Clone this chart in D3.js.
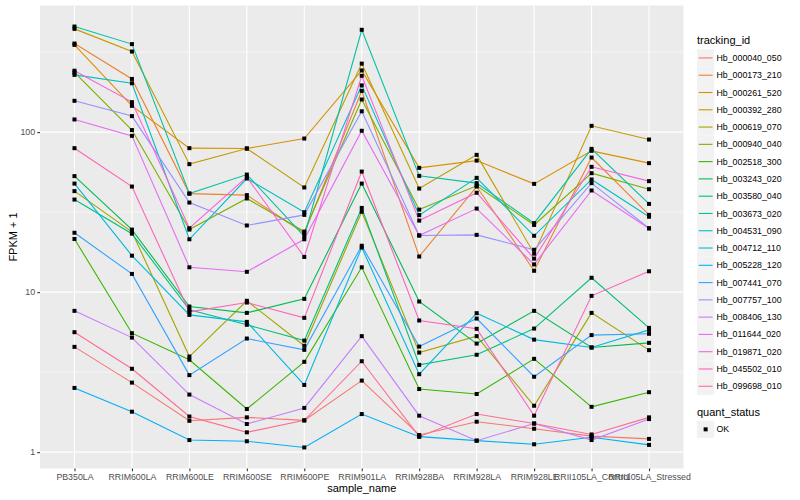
<!DOCTYPE html>
<html>
<head>
<meta charset="utf-8">
<script src="https://cdn.jsdelivr.net/npm/d3@7/dist/d3.min.js"></script>
<style>
  body { margin: 0; background: #fff; }
  text { font-family: "Liberation Sans", Arial, sans-serif; }
</style>
</head>
<body>
<svg width="800" height="500"></svg>
<script>
var samples = ["PB350LA", "RRIM600LA", "RRIM600LE", "RRIM600SE", "RRIM600PE", "RRIM901LA",
               "RRIM928BA", "RRIM928LA", "RRIM928LE", "RRII105LA_Control", "RRII105LA_Stressed"];

var trackingIds = ["Hb_000040_050", "Hb_000173_210", "Hb_000261_520", "Hb_000392_280", "Hb_000619_070",
                   "Hb_000940_040", "Hb_002518_300", "Hb_003243_020", "Hb_003580_040", "Hb_003673_020",
                   "Hb_004531_090", "Hb_004712_110", "Hb_005228_120", "Hb_007441_070", "Hb_007757_100",
                   "Hb_008406_130", "Hb_011644_020", "Hb_019871_020", "Hb_045502_010", "Hb_099698_010"];

var quantStatus = ["OK"];

// FPKM + 1, one value per sample
var hb_000040_050 = [4.55, 2.72, 1.57, 1.65, 1.58, 2.80, 1.28, 1.55, 1.40, 1.26, 1.21];
var hb_000173_210 = [358, 215, 41.3, 40.4, 23.4, 181, 16.7, 45.7, 13.6, 69.4, 30.4];
var hb_000261_520 = [351, 146, 79.4, 79.0, 91.2, 243, 59.8, 66.4, 47.5, 76.4, 64.0];
var hb_000392_280 = [442, 319, 63.1, 79.0, 45.1, 268, 44.4, 72.1, 17.4, 109.5, 89.9];
var hb_000619_070 = [42.8, 23.8, 3.96, 8.83, 4.62, 31.8, 4.19, 5.31, 1.95, 7.42, 4.34];
var hb_000940_040 = [236, 103, 24.6, 38.5, 23.9, 160, 32.8, 46.2, 26.3, 55.4, 44.0];
var hb_002518_300 = [21.5, 5.54, 3.78, 1.86, 3.67, 14.3, 2.48, 2.31, 3.83, 1.92, 2.37];
var hb_003243_020 = [53.1, 24.6, 8.13, 7.42, 9.08, 47.7, 8.74, 4.77, 7.64, 4.51, 4.82];
var hb_003580_040 = [37.9, 23.2, 7.75, 6.25, 4.98, 33.6, 3.51, 4.06, 5.92, 12.3, 5.98];
var hb_003673_020 = [457, 355, 41.3, 54.3, 22.3, 436, 53.3, 48.0, 27.0, 78.6, 35.6];
var hb_004531_090 = [228, 202, 21.4, 51.3, 31.6, 196, 30.3, 51.8, 22.5, 50.6, 29.6];
var hb_004712_110 = [47.7, 16.9, 7.21, 6.52, 2.63, 19.0, 3.07, 7.39, 5.05, 4.51, 5.81];
var hb_005228_120 = [2.52, 1.79, 1.19, 1.17, 1.07, 1.73, 1.25, 1.18, 1.12, 1.24, 1.11];
var hb_007441_070 = [23.5, 13.0, 3.03, 5.13, 4.36, 19.5, 4.57, 6.84, 2.96, 5.39, 5.49];
var hb_007757_100 = [157, 126, 36.3, 26.1, 30.4, 135, 22.6, 22.8, 18.4, 48.0, 25.1];
var hb_008406_130 = [7.64, 5.20, 2.29, 1.50, 1.89, 5.31, 1.69, 1.18, 1.51, 1.19, 1.61];
var hb_011644_020 = [120, 94.8, 14.3, 13.4, 21.4, 102, 22.6, 33.3, 14.9, 43.2, 25.0];
var hb_019871_020 = [242, 154, 25.1, 52.3, 16.6, 225, 28.0, 41.8, 16.2, 60.7, 49.4];
var hb_045502_010 = [79.4, 45.7, 7.53, 8.61, 6.91, 56.7, 6.65, 5.90, 1.69, 9.48, 13.5];
var hb_099698_010 = [5.62, 3.32, 1.67, 1.33, 1.58, 3.70, 1.25, 1.73, 1.51, 1.29, 1.65];

var seriesValues = [hb_000040_050, hb_000173_210, hb_000261_520, hb_000392_280, hb_000619_070,
                    hb_000940_040, hb_002518_300, hb_003243_020, hb_003580_040, hb_003673_020,
                    hb_004531_090, hb_004712_110, hb_005228_120, hb_007441_070, hb_007757_100,
                    hb_008406_130, hb_011644_020, hb_019871_020, hb_045502_010, hb_099698_010];

// ggplot default hue palette for 20 levels
var hues = ["#F8766D", "#EA8331", "#D89000", "#C09B00", "#A3A500", "#7CAE00", "#39B600", "#00BB4E",
            "#00BF7D", "#00C1A3", "#00BFC4", "#00BAE0", "#00B0F6", "#35A2FF", "#9590FF", "#C77CFF",
            "#E76BF3", "#FA62DB", "#FF62BC", "#FF6C91"];

var series = trackingIds.map(function(id, i){
  return {id: id, colour: hues[i], values: seriesValues[i].map(function(v, j){
    return {sample: samples[j], value: v};
  })};
});

var panelLeft = 40, panelRight = 683.5, panelTop = 5.5, panelBottom = 468.5;

var svg = d3.select('svg');

var xScale = d3.scalePoint()
  .domain(samples)
  .range([panelLeft, panelRight])
  .padding(0.6);

// log scale with 5% expansion like ggplot
var allValues = d3.merge(seriesValues);
var logMin = Math.log10(d3.min(allValues)), logMax = Math.log10(d3.max(allValues));
var pad = (logMax - logMin) * 0.05;
var yScale = d3.scaleLog()
  .domain([Math.pow(10, logMin - pad), Math.pow(10, logMax + pad)])
  .range([panelBottom, panelTop]);

// panel background
svg.append('rect')
  .attr('x', panelLeft).attr('y', panelTop)
  .attr('width', panelRight - panelLeft).attr('height', panelBottom - panelTop)
  .attr('fill', '#EBEBEB');

var grid = svg.append('g').attr('class', 'grid');
grid.selectAll('line.minor')
  .data([Math.sqrt(10), Math.sqrt(1000), Math.sqrt(100000)])
  .enter().append('line')
  .attr('class', 'minor')
  .attr('x1', panelLeft).attr('x2', panelRight)
  .attr('y1', function(d){ return yScale(d); })
  .attr('y2', function(d){ return yScale(d); })
  .attr('stroke', '#fff').attr('stroke-width', 0.55);
grid.selectAll('line.majory')
  .data([1, 10, 100])
  .enter().append('line')
  .attr('class', 'majory')
  .attr('x1', panelLeft).attr('x2', panelRight)
  .attr('y1', function(d){ return yScale(d); })
  .attr('y2', function(d){ return yScale(d); })
  .attr('stroke', '#fff').attr('stroke-width', 1.1);
grid.selectAll('line.majorx')
  .data(samples)
  .enter().append('line')
  .attr('class', 'majorx')
  .attr('x1', function(d){ return xScale(d); })
  .attr('x2', function(d){ return xScale(d); })
  .attr('y1', panelTop).attr('y2', panelBottom)
  .attr('stroke', '#fff').attr('stroke-width', 1.1);

// lines
var line = d3.line()
  .x(function(d){ return xScale(d.sample); })
  .y(function(d){ return yScale(d.value); });

svg.append('g').attr('class', 'lines')
  .selectAll('path')
  .data(series)
  .enter().append('path')
  .attr('d', function(d){ return line(d.values); })
  .attr('fill', 'none')
  .attr('stroke', function(d){ return d.colour; })
  .attr('stroke-width', 1.1);

// points
svg.append('g').attr('class', 'points')
  .selectAll('rect')
  .data(d3.merge(series.map(function(s){ return s.values; })))
  .enter().append('rect')
  .attr('x', function(d){ return xScale(d.sample) - 2; })
  .attr('y', function(d){ return yScale(d.value) - 2; })
  .attr('width', 4).attr('height', 4)
  .attr('fill', '#000');

// axes
var yAxis = d3.axisLeft(yScale)
  .tickValues([1, 10, 100])
  .tickFormat(d3.format('d'))
  .tickSize(2.7)
  .tickPadding(2.2);
var yAxisG = svg.append('g')
  .attr('transform', 'translate(' + panelLeft + ',0)')
  .call(yAxis);

var xAxis = d3.axisBottom(xScale)
  .tickSize(2.7)
  .tickPadding(2.2);
var xAxisG = svg.append('g')
  .attr('transform', 'translate(0,' + panelBottom + ')')
  .call(xAxis);

[yAxisG, xAxisG].forEach(function(g){
  g.select('.domain').remove();
  g.selectAll('.tick line').attr('stroke', '#333333').attr('stroke-width', 1.1);
  g.selectAll('.tick text')
    .attr('fill', '#4D4D4D')
    .style('font-size', '8.8px')
    .style('font-family', '"Liberation Sans", Arial, sans-serif');
});

// axis titles
svg.append('text')
  .attr('x', (panelLeft + panelRight) / 2)
  .attr('y', 492)
  .attr('text-anchor', 'middle')
  .style('font-size', '11px')
  .text('sample_name');

svg.append('text')
  .attr('transform', 'translate(17,' + ((panelTop + panelBottom) / 2) + ')rotate(-90)')
  .attr('text-anchor', 'middle')
  .style('font-size', '11px')
  .text('FPKM + 1');

// legend: tracking_id
var keySize = 17.28, legendX = 697, legendTop = 49.3;
var legend = svg.append('g').attr('class', 'legend');
legend.append('text')
  .attr('x', legendX).attr('y', legendTop - 5)
  .style('font-size', '11px')
  .text('tracking_id');

var keys = legend.selectAll('g.key')
  .data(series)
  .enter().append('g')
  .attr('class', 'key')
  .attr('transform', function(d, i){ return 'translate(' + legendX + ',' + (legendTop + i * keySize) + ')'; });
keys.append('rect')
  .attr('width', keySize).attr('height', keySize)
  .attr('fill', '#F2F2F2');
keys.append('line')
  .attr('x1', 1.7).attr('x2', keySize - 1.7)
  .attr('y1', keySize / 2).attr('y2', keySize / 2)
  .attr('stroke', function(d){ return d.colour; })
  .attr('stroke-width', 1.1);
keys.append('text')
  .attr('x', keySize + 2.2).attr('y', keySize / 2)
  .attr('dy', '0.35em')
  .attr('fill', '#000')
  .style('font-size', '8.8px')
  .text(function(d){ return d.id; });

// legend: quant_status
var statusTop = 420.7;
legend.append('text')
  .attr('x', legendX).attr('y', statusTop - 5)
  .style('font-size', '11px')
  .text('quant_status');
var statusKeys = legend.selectAll('g.status')
  .data(quantStatus)
  .enter().append('g')
  .attr('class', 'status')
  .attr('transform', function(d, i){ return 'translate(' + legendX + ',' + (statusTop + i * keySize) + ')'; });
statusKeys.append('rect')
  .attr('width', keySize).attr('height', keySize)
  .attr('fill', '#F2F2F2');
statusKeys.append('rect')
  .attr('x', keySize / 2 - 2).attr('y', keySize / 2 - 2)
  .attr('width', 4).attr('height', 4)
  .attr('fill', '#000');
statusKeys.append('text')
  .attr('x', keySize + 2.2).attr('y', keySize / 2)
  .attr('dy', '0.35em')
  .style('font-size', '8.8px')
  .text(function(d){ return d; });
</script>
</body>
</html>
